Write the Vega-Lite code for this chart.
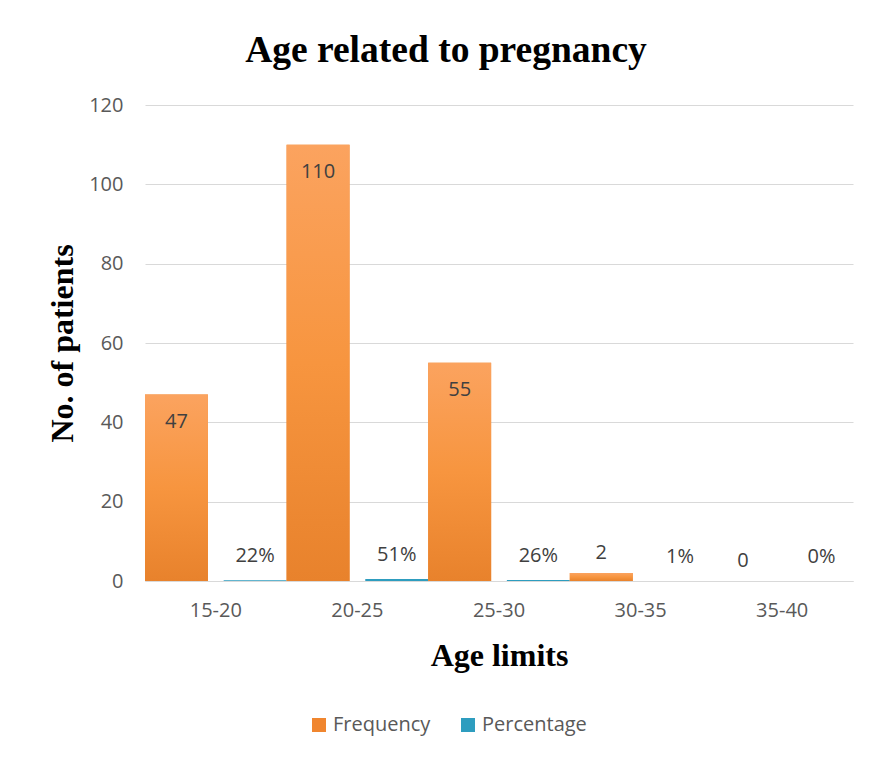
{
  "$schema": "https://vega.github.io/schema/vega-lite/v6.json",
  "autosize": "none",
  "width": 708,
  "height": 476,
  "padding": {"left": 145, "top": 105, "right": 21, "bottom": 179},
  "background": "white",
  "title": {
    "text": "Age related to pregnancy",
    "font": "Liberation Serif",
    "fontSize": 37.5,
    "fontWeight": "bold",
    "color": "#000000",
    "baseline": "alphabetic",
    "offset": 6,
    "dy": 10,
    "dx": -53
  },
  "data": {
    "values": [
      {"age": "15-20", "series": "Frequency", "value": 47},
      {"age": "15-20", "series": "Percentage", "value": 0.22},
      {"age": "20-25", "series": "Frequency", "value": 110},
      {"age": "20-25", "series": "Percentage", "value": 0.51},
      {"age": "25-30", "series": "Frequency", "value": 55},
      {"age": "25-30", "series": "Percentage", "value": 0.26},
      {"age": "30-35", "series": "Frequency", "value": 2},
      {"age": "30-35", "series": "Percentage", "value": 0.01},
      {"age": "35-40", "series": "Frequency", "value": 0},
      {"age": "35-40", "series": "Percentage", "value": 0}
    ]
  },
  "encoding": {
    "x": {
      "field": "age",
      "type": "nominal",
      "sort": null,
      "scale": {"paddingInner": 0, "paddingOuter": 0},
      "axis": {
        "title": "Age limits",
        "titleFont": "Liberation Serif",
        "titleFontSize": 32,
        "titleFontWeight": "bold",
        "titleColor": "#000000",
        "titleBaseline": "middle",
        "titleY": 74,
        "labelAngle": 0,
        "labelFont": "Open Sans",
        "labelFontSize": 20,
        "labelColor": "#595959",
        "labelPadding": 19,
        "ticks": false,
        "domainColor": "#d9d9d9",
        "domainWidth": 1,
        "grid": false
      }
    },
    "xOffset": {
      "field": "series",
      "type": "nominal",
      "scale": {"paddingInner": 0.2, "paddingOuter": 0}
    },
    "y": {
      "field": "value",
      "type": "quantitative",
      "scale": {"domain": [0, 120], "nice": false},
      "axis": {
        "values": [0, 20, 40, 60, 80, 100, 120],
        "title": "No. of patients",
        "titleFont": "Liberation Serif",
        "titleFontSize": 32,
        "titleFontWeight": "bold",
        "titleColor": "#000000",
        "titleAngle": -90,
        "titleBaseline": "middle",
        "titleX": -83,
        "titleY": 238,
        "labelFont": "Open Sans",
        "labelFontSize": 20,
        "labelColor": "#595959",
        "labelPadding": 22,
        "ticks": false,
        "domain": false,
        "gridColor": "#d9d9d9",
        "gridWidth": 1
      }
    }
  },
  "layer": [
    {
      "mark": {"type": "bar"},
      "encoding": {
        "color": {
          "field": "series",
          "type": "nominal",
          "scale": {"domain": ["Frequency", "Percentage"], "range": ["#f0862f", "#2e9dbf"]},
          "legend": {
            "title": null,
            "orient": "none",
            "direction": "horizontal",
            "legendX": 164,
            "legendY": 610,
            "symbolType": "square",
            "symbolSize": 196,
            "symbolStrokeWidth": 0,
            "labelFont": "Open Sans",
            "labelFontSize": 20,
            "labelColor": "#595959",
            "columnPadding": 27,
            "labelOffset": 4
          }
        }
      }
    },
    {
      "transform": [{"filter": "datum.series === 'Frequency'"}],
      "mark": {
        "type": "bar",
        "color": {
          "gradient": "linear",
          "x1": 0, "y1": 0, "x2": 0, "y2": 1,
          "stops": [
            {"offset": 0, "color": "#fba35f"},
            {"offset": 0.5, "color": "#f7953f"},
            {"offset": 1, "color": "#e8822c"}
          ]
        }
      },
      "encoding": {}
    },
    {
      "transform": [{"filter": "datum.series === 'Frequency' && datum.value >= 10"}],
      "mark": {"type": "text", "font": "Open Sans", "fontSize": 20, "color": "#404040", "baseline": "middle", "dy": 27},
      "encoding": {"text": {"field": "value", "type": "quantitative", "format": "d"}}
    },
    {
      "transform": [{"filter": "datum.series === 'Frequency' && datum.value < 10"}],
      "mark": {"type": "text", "font": "Open Sans", "fontSize": 20, "color": "#404040", "baseline": "middle", "dy": -20},
      "encoding": {"text": {"field": "value", "type": "quantitative", "format": "d"}}
    },
    {
      "transform": [{"filter": "datum.series === 'Percentage'"}],
      "mark": {"type": "text", "font": "Open Sans", "fontSize": 20, "color": "#404040", "baseline": "middle", "dy": -24},
      "encoding": {"text": {"field": "value", "type": "quantitative", "format": ".0%"}}
    }
  ],
  "config": {"view": {"stroke": null}}
}
